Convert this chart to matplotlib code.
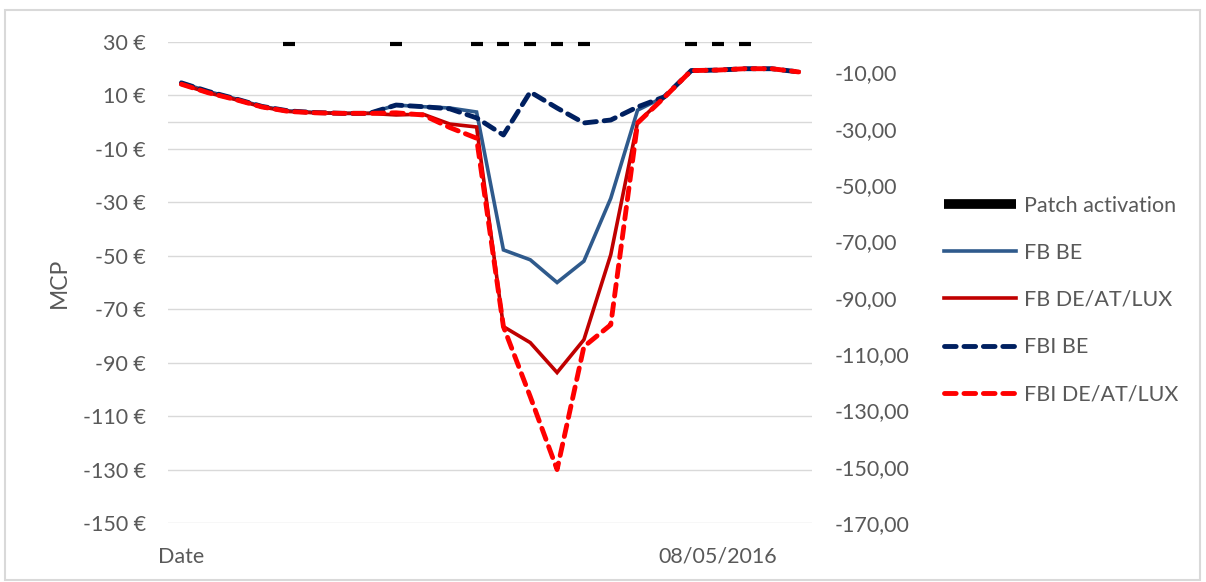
import numpy as np
import matplotlib.pyplot as plt
from matplotlib.patches import Rectangle

# hourly categories, only two labels shown
HOURS = list(range(24))
TICK_POS = [0, 20]
TICK_LABELS = ['Date', '08/05/2016']

FB_BE = [14.7, 11.5, 8.8, 5.9, 4.2, 3.6, 3.3, 3.3, 6.4, 5.8, 5.3, 3.8,
         -47.8, -51.5, -60.0, -52.0, -28.5, 4.5, 9.5, 19.3, 19.5, 20.0, 20.0, 18.8]
FB_DEATLUX = [14.2, 11.0, 8.5, 5.7, 4.0, 3.5, 3.3, 3.3, 2.7, 3.0, -0.7, -1.8,
              -76.5, -82.5, -93.7, -81.4, -49.6, 0.0, 9.3, 19.3, 19.5, 20.0, 20.0, 18.8]
FBI_BE = [14.7, 11.5, 8.8, 5.9, 4.2, 3.6, 3.3, 3.3, 6.4, 5.8, 5.0, 1.6,
          -4.8, 11.3, 5.3, -0.3, 0.8, 5.7, 9.5, 19.3, 19.5, 20.0, 20.0, 18.8]
FBI_DEATLUX = [14.2, 11.0, 8.5, 5.7, 4.0, 3.5, 3.3, 3.3, 3.5, 2.7, -2.0, -6.0,
               -76.5, -102.7, -130.0, -84.0, -75.8, -0.3, 9.3, 19.3, 19.5, 20.0, 20.0, 18.8]
# patch activation hours, plotted at 0 on the secondary axis
PATCH_HOURS = [4, 8, 11, 12, 13, 14, 15, 19, 20, 21]
PATCH_VALUES = [0.0] * len(PATCH_HOURS)

LEFT_TICKS = list(range(-150, 31, 20))
RIGHT_TICKS = list(range(-170, -9, 20))

GRAY = '#595959'
GRID = '#D9D9D9'
FONT = 'Lato'
TICK_SZ = 15.5

fig = plt.figure(figsize=(12.06, 5.82), dpi=100)
ax = fig.add_axes([168/1206, 1 - 523/582, 644/1206, 481/582])
ax2 = ax.twinx()

ax.set_xlim(-0.5, 23.5)
ax.set_ylim(-150, 30)
ax2.set_ylim(-170, 0.75)

for y in LEFT_TICKS:
    ax.axhline(y, color=GRID, lw=1, zorder=0)
ax.axhline(0, color=GRID, lw=1, zorder=0)

l1, = ax.plot(HOURS, FB_BE, color='#2F5A8C', lw=2.6, label='FB BE',
              solid_joinstyle='miter')
l2, = ax.plot(HOURS, FB_DEATLUX, color='#C00000', lw=2.6, label='FB DE/AT/LUX',
              solid_joinstyle='miter')
l3, = ax.plot(HOURS, FBI_BE, color='#002060', lw=3.5, ls=(0, (2.4, 1.6)),
              dash_capstyle='round', label='FBI BE')
l4, = ax.plot(HOURS, FBI_DEATLUX, color='#FF0000', lw=3.5, ls=(0, (2.4, 1.6)),
              dash_capstyle='round', label='FBI DE/AT/LUX')
l0, = ax2.plot(PATCH_HOURS, PATCH_VALUES, ls='none', marker='_', ms=9, mew=3,
               color='black', clip_on=False, label='Patch activation')

ax.set_yticks(LEFT_TICKS)
ax.set_yticklabels([f'{v} €' for v in LEFT_TICKS])
ax2.set_yticks(RIGHT_TICKS)
ax2.set_yticklabels([f'{v},00' for v in RIGHT_TICKS])
ax.set_xticks(TICK_POS)
ax.set_xticklabels(TICK_LABELS)

for a in (ax, ax2):
    for s in a.spines.values():
        s.set_visible(False)
    a.tick_params(length=0, labelsize=TICK_SZ, labelcolor=GRAY)
    for t in a.get_xticklabels() + a.get_yticklabels():
        t.set_fontfamily(FONT)
ax.tick_params(axis='y', pad=16)
ax2.tick_params(axis='y', pad=16)
ax.tick_params(axis='x', pad=17)

ax.set_ylabel('MCP', fontsize=16.5, color=GRAY, family=FONT, labelpad=9)

patch_handle = plt.Line2D([], [], color='black', lw=7, solid_capstyle='butt')
leg = fig.legend([patch_handle, l1, l2, l3, l4],
                 ['Patch activation', 'FB BE', 'FB DE/AT/LUX', 'FBI BE', 'FBI DE/AT/LUX'],
                 loc='center left', bbox_to_anchor=(925/1206, 1 - 300/582),
                 frameon=False, handlelength=3.35, handletextpad=0.35,
                 labelspacing=1.26, prop={'family': FONT, 'size': 15.5})
for t in leg.get_texts():
    t.set_color(GRAY)

fig.patches.append(Rectangle((5/1206, 2/582), 1195/1206, 570/582,
                             transform=fig.transFigure, fill=False,
                             edgecolor='#D9D9D9', lw=1.5))

fig.savefig('out.png', dpi=100)
